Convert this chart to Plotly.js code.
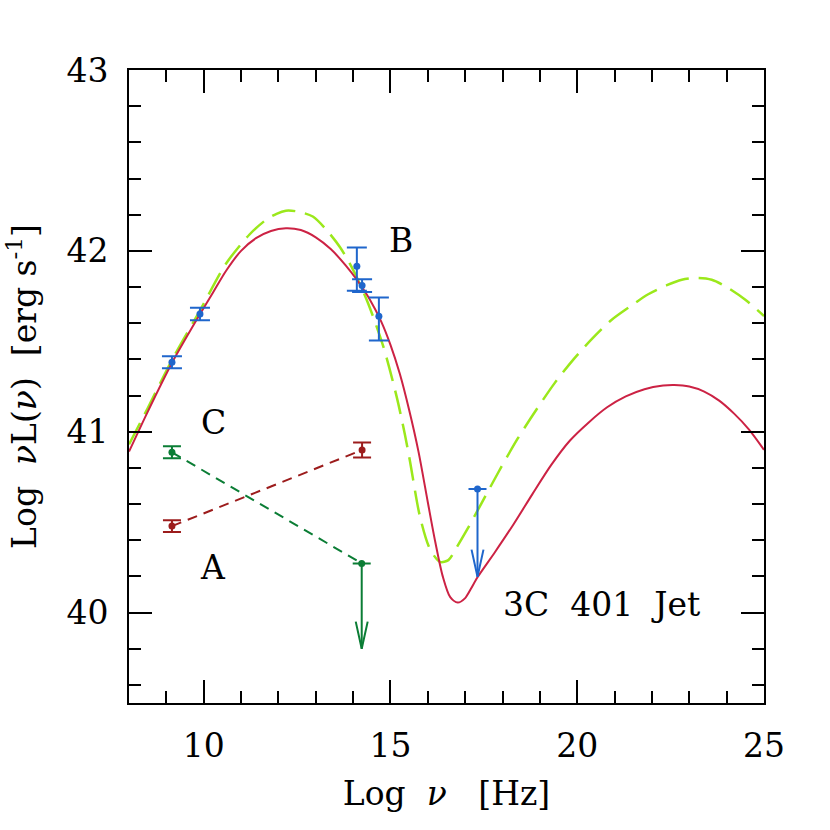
<!DOCTYPE html>
<html>
<head>
<meta charset="utf-8">
<script src="https://cdn.plot.ly/plotly-3.0.1.min.js"></script>
<style>html,body{margin:0;padding:0;background:#fff;}#plot{width:830px;height:830px;}</style>
</head>
<body>
<div id="plot"></div>
<script>
// ---- data ----
// Model curves (log nu, log nuL)
const redX = [8.0, 8.5, 9.16, 9.9, 10.25, 10.6, 11.0, 11.4, 11.8, 12.2, 12.6, 13.0, 13.4, 13.8, 14.1, 14.45, 14.75, 15.0, 15.25, 15.5, 15.75, 16.0, 16.2, 16.4, 16.6, 16.8, 17.0, 17.15, 17.33, 17.8, 18.3, 18.8, 19.3, 19.8, 20.3, 20.8, 21.3, 21.8, 22.3, 22.6, 23.0, 23.4, 23.8, 24.2, 24.6, 25.0];
const redY = [40.89, 41.11, 41.384, 41.65, 41.77, 41.89, 42.0, 42.07, 42.11, 42.125, 42.115, 42.075, 42.01, 41.92, 41.84, 41.73, 41.61, 41.48, 41.32, 41.12, 40.89, 40.61, 40.39, 40.2, 40.085, 40.055, 40.08, 40.13, 40.195, 40.335, 40.49, 40.655, 40.815, 40.95, 41.05, 41.135, 41.195, 41.235, 41.255, 41.258, 41.25, 41.222, 41.172, 41.1, 41.012, 40.9];
const limeX = [8.0, 8.5, 9.16, 9.9, 10.6, 11.22, 11.67, 11.95, 12.2, 12.5, 12.92, 13.27, 13.65, 14.0, 14.4, 14.81, 15.17, 15.39, 15.52, 15.79, 16.06, 16.33, 16.55, 16.77, 17.0, 17.4, 17.9, 18.4, 18.9, 19.4, 19.9, 20.4, 20.9, 21.4, 21.9, 22.4, 22.8, 23.2, 23.6, 24.0, 24.5, 25.0];
const limeY = [40.93, 41.13, 41.40, 41.67, 41.93, 42.089, 42.172, 42.205, 42.222, 42.218, 42.19, 42.12, 42.02, 41.895, 41.71, 41.47, 41.19, 40.98, 40.84, 40.53, 40.35, 40.28, 40.29, 40.36, 40.44, 40.59, 40.78, 40.96, 41.12, 41.27, 41.40, 41.515, 41.615, 41.69, 41.76, 41.81, 41.84, 41.85, 41.84, 41.80, 41.73, 41.64];

// Knot B (blue) detections
const bX = [9.15, 9.9, 14.1, 14.24, 14.69];
const bY = [41.384, 41.651, 41.915, 41.808, 41.639];
const bErrPlus = [0.033, 0.034, 0.103, 0.035, 0.103];
const bErrMinus = [0.033, 0.034, 0.135, 0.035, 0.135];
// Knot B X-ray upper limit
const bUlX = [17.33];
const bUlY = [40.683];
const bUlTip = [40.198];

// Knot C (green)
const cX = [9.15, 14.23];
const cY = [40.886, 40.272];
const cErr = [0.033, 0];
const cUlTip = [39.80];

// Knot A (dark red)
const aX = [9.15, 14.24];
const aY = [40.478, 40.899];
const aErr = [0.033, 0.042];

// Labels
const NB = '\u00a0';
const labelText = ["B", "C", "A", "3C" + NB + NB + "401" + NB + NB + "Jet"];
const labelX = [15.28, 10.25, 10.25, 20.66];
const labelY = [42.058, 41.05, 40.25, 40.047];

// ---- styling ----
const BLUE = '#1f66cc', GREEN = '#0b7d35', DARKRED = '#9c1c1c', RED = '#cc2244', LIME = '#9be81b';
const FONT = 'DejaVu Serif, serif';

function arrow(x, yTop, yTip, color) {
  // shaft + open V head, derived from data values
  const dx = 0.16, dy = 0.15;
  return {
    x: [x, x, null, x - dx, x, x + dx],
    y: [yTop, yTip, null, yTip + dy, yTip, yTip + dy],
    mode: 'lines', type: 'scatter', hoverinfo: 'skip',
    line: {color: color, width: 2}, showlegend: false
  };
}

const traces = [
  {x: limeX, y: limeY, mode: 'lines', type: 'scatter',
   line: {color: LIME, width: 2.5, dash: '24px,10px', shape: 'spline', smoothing: 0.8}},
  {x: redX, y: redY, mode: 'lines', type: 'scatter',
   line: {color: RED, width: 2, shape: 'spline', smoothing: 0.8}},
  // A
  {x: aX, y: aY, mode: 'lines+markers', type: 'scatter',
   line: {color: DARKRED, width: 2, dash: '10px,7px'},
   marker: {color: DARKRED, size: 7},
   error_y: {type: 'data', array: aErr, color: DARKRED, thickness: 2, width: 9}},
  // C
  {x: cX, y: cY, mode: 'lines+markers', type: 'scatter',
   line: {color: GREEN, width: 2, dash: '10px,7px'},
   marker: {color: GREEN, size: 7},
   error_y: {type: 'data', array: cErr, color: GREEN, thickness: 2, width: 9}},
  arrow(cX[1], cY[1], cUlTip[0], GREEN),
  // B
  {x: bX, y: bY, mode: 'markers', type: 'scatter',
   marker: {color: BLUE, size: 7},
   error_y: {type: 'data', symmetric: false, array: bErrPlus, arrayminus: bErrMinus, color: BLUE, thickness: 2, width: 10}},
  {x: bUlX, y: bUlY, mode: 'markers', type: 'scatter',
   marker: {color: BLUE, size: 7},
   error_y: {type: 'data', array: [0], color: BLUE, thickness: 2, width: 9}},
  arrow(bUlX[0], bUlY[0], bUlTip[0], BLUE)
];

const annotations = labelText.map((t, i) => ({
  x: labelX[i], y: labelY[i], xref: 'x', yref: 'y', text: t, showarrow: false,
  font: {family: FONT, size: 33, color: '#000'}, xanchor: 'center', yanchor: 'middle'
}));

const axisCommon = {
  showgrid: false, zeroline: false, showline: true, linecolor: '#000', linewidth: 2,
  mirror: 'ticks', ticks: 'inside', ticklen: 23, tickwidth: 2, tickcolor: '#000',
  tickfont: {family: FONT, size: 33, color: '#000'}, ticklabelstandoff: 12
};

const layout = {
  width: 830, height: 830,
  margin: {l: 129, r: 66, t: 70, b: 127},
  paper_bgcolor: '#fff', plot_bgcolor: '#fff',
  showlegend: false,
  xaxis: Object.assign({}, axisCommon, {
    range: [8, 25], tick0: 0, dtick: 5,
    minor: {dtick: 1, ticks: 'inside', ticklen: 12, tickwidth: 2, tickcolor: '#000'},
    title: {text: 'Log' + NB + NB + '<i>ν</i>' + NB + NB + NB + '[Hz]', font: {family: FONT, size: 33, color: '#000'}, standoff: 18}
  }),
  yaxis: Object.assign({}, axisCommon, {
    range: [39.5, 43], tick0: 0, dtick: 1,
    minor: {dtick: 0.2, ticks: 'inside', ticklen: 12, tickwidth: 2, tickcolor: '#000'},
    title: {text: 'Log' + NB + NB + '<i>ν</i>L(<i>ν</i>)' + NB + NB + '[erg' + NB + 's<sup>-1</sup>]', font: {family: FONT, size: 33, color: '#000'}, standoff: 20}
  }),
  annotations: annotations
};

Plotly.newPlot('plot', traces, layout, {staticPlot: true, displayModeBar: false});
</script>
</body>
</html>
